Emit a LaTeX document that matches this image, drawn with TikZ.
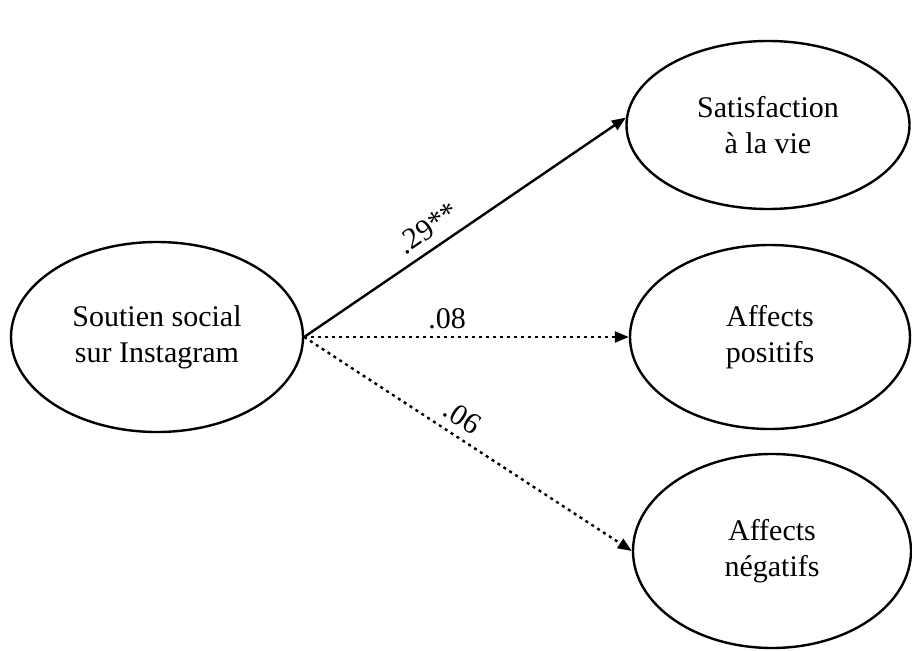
\documentclass[tikz,border=0pt]{standalone}
\usepackage{fontspec}
\setmainfont{Liberation Serif}
\usetikzlibrary{shapes.geometric,arrows.meta}
\begin{document}
\begin{tikzpicture}[x=1pt,y=-1pt,
  latent/.style={draw, ellipse, line width=2.4pt, inner sep=0pt, align=center,
    font=\fontsize{30}{36}\selectfont},
  path/.style={line width=2.4pt, -{Triangle[length=14pt,width=11pt]}},
  dotpath/.style={path, dash pattern=on 3pt off 4pt},
  coef/.style={font=\fontsize{30}{34}\selectfont, sloped, above, inner sep=7pt}]
\useasboundingbox (0,0) rectangle (912,650);
\node[latent, minimum width=292pt, minimum height=190pt] (src) at (157,337) {Soutien social\\sur Instagram};
\node[latent, minimum width=283pt, minimum height=168pt] (sat) at (768,125) {Satisfaction\\à la vie};
\node[latent, minimum width=280pt, minimum height=184pt] (pos) at (770,337) {Affects\\positifs};
\node[latent, minimum width=278pt, minimum height=194pt] (neg) at (772,551) {Affects\\négatifs};
\draw[path] (src.east) -- node[coef, pos=0.42, inner sep=9pt] {.29**} (sat.177);
\draw[dotpath] (src.east) -- node[coef, pos=0.44] {.08} (pos.west);
\draw[dotpath] (src.east) -- node[coef, pos=0.45, inner sep=8pt] {.06} (neg.west);
\end{tikzpicture}
\end{document}
